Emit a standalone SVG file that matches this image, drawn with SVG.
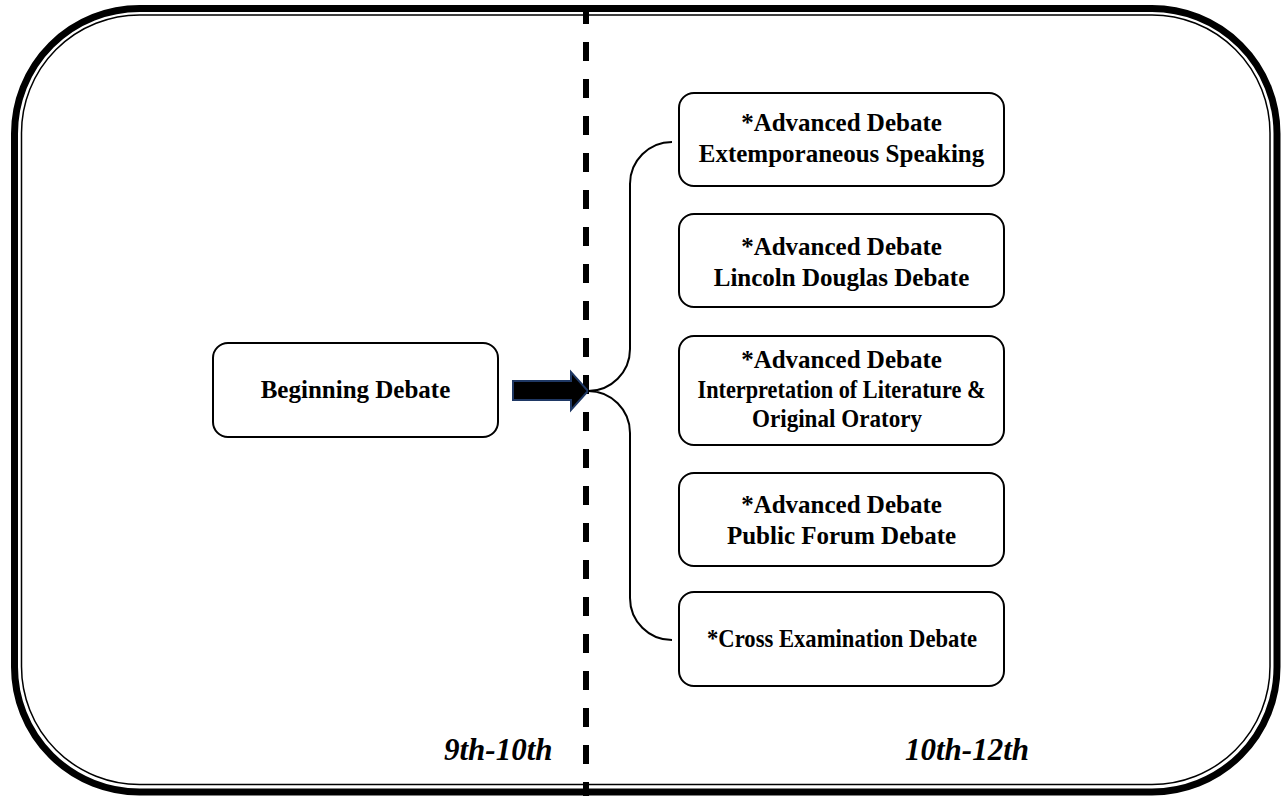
<svg xmlns="http://www.w3.org/2000/svg" width="1281" height="796" viewBox="0 0 1281 796">
<style>
.box{fill:#fff;stroke:#000;stroke-width:2}
.t{font-family:"Liberation Serif","Times New Roman",serif;font-weight:bold;font-size:25px;fill:#000;text-anchor:middle}
.lbl{font-family:"Liberation Serif","Times New Roman",serif;font-weight:bold;font-style:italic;font-size:31px;fill:#000}
.con{fill:none;stroke:#000;stroke-width:2}
</style>
<rect width="1281" height="796" fill="#fff"/>
<g id="frame">
<rect x="14.5" y="8.5" width="1262.5" height="783.5" rx="125" ry="125" fill="none" stroke="#000" stroke-width="7"/>
<rect x="21.5" y="15" width="1248.5" height="769.5" rx="118" ry="118" fill="none" stroke="#000" stroke-width="1.5"/>
</g>
<g id="divider">
<line x1="586" y1="5" x2="586" y2="796" stroke="#000" stroke-width="6" stroke-dasharray="19 18"/>
</g>
<g id="labels">
<text class="lbl" x="444" y="760">9th-10th</text>
<text class="lbl" x="905" y="760">10th-12th</text>
</g>
<g id="connectors">
<polygon points="513,381 571,381 571,372 588,391 571,410 571,400 513,400" fill="#000" stroke="#1F3864" stroke-width="2"/>
<path class="con" d="M672,142 A42,42 0 0 0 630,184 L630,349 A42,42 0 0 1 588,391 A42,42 0 0 1 630,433 L630,598 A42,42 0 0 0 672,640"/>
</g>
<g id="beginning">
<rect class="box" x="213" y="343" width="285" height="94" rx="15"/>
<text class="t" x="355.5" y="398">Beginning Debate</text>
</g>
<g id="extemp">
<rect class="box" x="679" y="93" width="325" height="93" rx="15"/>
<text class="t" x="841.5" y="131">*Advanced Debate</text>
<text class="t" x="841.5" y="162">Extemporaneous Speaking</text>
</g>
<g id="lincoln">
<rect class="box" x="679" y="214" width="325" height="93" rx="15"/>
<text class="t" x="841.5" y="255">*Advanced Debate</text>
<text class="t" x="841.5" y="286">Lincoln Douglas Debate</text>
</g>
<g id="interp">
<rect class="box" x="679" y="336" width="325" height="109" rx="15"/>
<text class="t" x="841.5" y="368">*Advanced Debate</text>
<text class="t" x="841.5" y="398" textLength="288" lengthAdjust="spacingAndGlyphs">Interpretation of Literature &amp;</text>
<text class="t" x="837" y="427" textLength="170" lengthAdjust="spacingAndGlyphs">Original Oratory</text>
</g>
<g id="pf">
<rect class="box" x="679" y="473" width="325" height="93" rx="15"/>
<text class="t" x="841.5" y="513">*Advanced Debate</text>
<text class="t" x="841.5" y="544">Public Forum Debate</text>
</g>
<g id="cx">
<rect class="box" x="679" y="592" width="325" height="94" rx="15"/>
<text class="t" x="842" y="647" textLength="270" lengthAdjust="spacingAndGlyphs">*Cross Examination Debate</text>
</g>
</svg>
